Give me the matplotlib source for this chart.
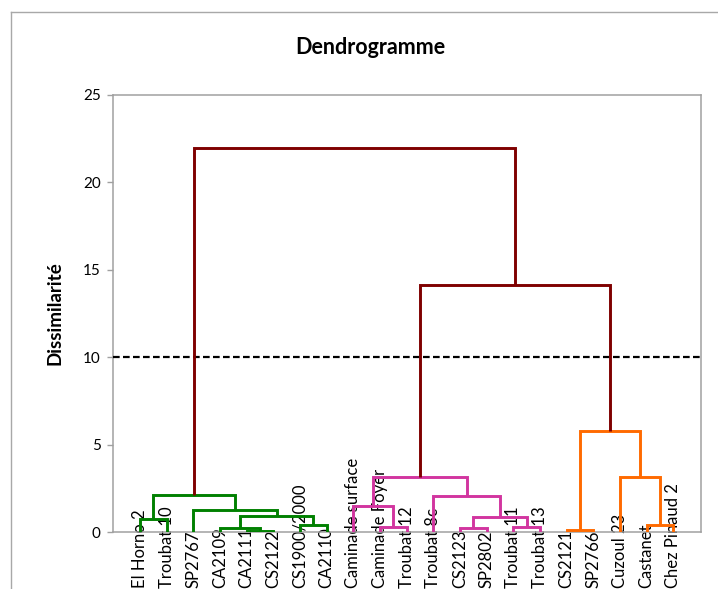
import matplotlib
matplotlib.use("Agg")
import matplotlib.pyplot as plt
from matplotlib.lines import Line2D
from matplotlib.transforms import blended_transform_factory

plt.rcParams['font.family'] = ['Lato', 'DejaVu Sans']

# leaves, left to right
labels = ["El Horno 2", "Troubat 10", "SP2767", "CA2109", "CA2111", "CS2122",
          "CS1900/2000", "CA2110", "Caminade surface", "Caminade Foyer",
          "Troubat 12", "Troubat 8c", "CS2123", "SP2802", "Troubat 11",
          "Troubat 13", "CS2121", "SP2766", "Cuzoul 23", "Castanet",
          "Chez Pinaud 2"]

# merges: (left node, right node, dissimilarity); node ids >= 21 are earlier merges
merges = [
    (0, 1, 0.74), (4, 5, 0.05), (3, 22, 0.21), (6, 7, 0.40), (23, 24, 0.92),
    (2, 25, 1.26), (21, 26, 2.12),
    (9, 10, 0.30), (8, 28, 1.49), (12, 13, 0.21), (14, 15, 0.27),
    (30, 31, 0.84), (11, 32, 2.06), (29, 33, 3.17),
    (16, 17, 0.11), (19, 20, 0.38), (18, 36, 3.17), (35, 37, 5.80),
    (34, 38, 14.13), (27, 39, 21.97),
]
merge_groups = ["g"] * 7 + ["m"] * 7 + ["o"] * 4 + ["r"] * 2
group_colors = {"g": "#008000", "m": "#D2359F", "o": "#FF6A00", "r": "#7F0000"}

cut_level = 10
yticks = [0, 5, 10, 15, 20, 25]

fig = plt.figure(figsize=(7.18, 5.89), dpi=100)
ax = fig.add_axes([113.3 / 718, 57 / 589, 587.2 / 718, 437 / 589])

n = len(labels)
node_x = {i: i + 1 for i in range(n)}
node_h = {i: 0.0 for i in range(n)}
for k, (a, b, h) in enumerate(merges):
    xa, xb = node_x[a], node_x[b]
    ax.plot([xa, xa, xb, xb], [node_h[a], h, h, node_h[b]],
            color=group_colors[merge_groups[k]], lw=2.1, zorder=4,
            solid_joinstyle="miter", solid_capstyle="butt")
    node_x[n + k] = (xa + xb) / 2
    node_h[n + k] = h

ax.axhline(cut_level, color="black", lw=1.6, ls=(0, (3.0, 1.5)), zorder=3)

ax.set_xlim(0, 22.02)
ax.set_ylim(0, 25)
ax.set_xticks([])
ax.set_yticks(yticks)
for s in ax.spines.values():
    s.set_color("#a0a0a0")
    s.set_linewidth(1.1)
ax.tick_params(axis="y", direction="out", length=4, width=1.0,
               color="#a0a0a0", labelsize=11, pad=5)
ax.set_ylabel("Dissimilarité", fontsize=13.5, fontweight="bold", labelpad=14)

# leaf names written upward from the bottom edge
tr = blended_transform_factory(ax.transData, fig.transFigure)
for i, name in enumerate(labels):
    ax.text(i + 1, 1.5 / 589, name, rotation=90, ha="center", va="bottom",
            fontsize=12, transform=tr, clip_on=False, zorder=2)

fig.text(370 / 718, 1 - 48 / 589, "Dendrogramme", ha="center", va="center",
         fontsize=15.5, fontweight="bold")

# chart area border
fig.add_artist(Line2D([10.5 / 718, 10.5 / 718], [0, 1 - 12 / 589],
                      transform=fig.transFigure, color="#a8a8a8", lw=1.0))
fig.add_artist(Line2D([10.5 / 718, 1], [1 - 12 / 589, 1 - 12 / 589],
                      transform=fig.transFigure, color="#a8a8a8", lw=1.0))

fig.savefig("out.png", dpi=100)
